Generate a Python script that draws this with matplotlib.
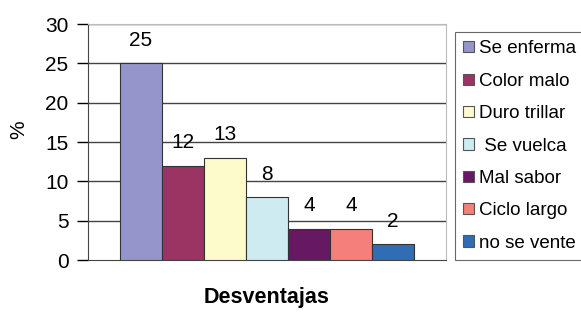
import numpy as np
import matplotlib.pyplot as plt

# datos
categorias = ['Se enferma', 'Color malo', 'Duro trillar', ' Se vuelca',
              'Mal sabor', 'Ciclo largo', 'no se vente']
valores = [25, 12, 13, 8, 4, 4, 2]
colores = ['#9595CC', '#9B3462', '#FDFBCC', '#CDEBF0', '#661863', '#F57F7A', '#2F6DB5']
yticks = [0, 5, 10, 15, 20, 25, 30]

plt.rcParams['font.family'] = ['Liberation Sans', 'DejaVu Sans']

fig = plt.figure(figsize=(5.81, 3.13), dpi=100)
ax = fig.add_axes([88/581, 1-260/313, (446-88)/581, (260-24)/313])

ancho = 42/358*1.0
n = len(valores)
x0 = -ancho*n/2 + ancho/2
for i, (c, v, col) in enumerate(zip(categorias, valores, colores)):
    xi = x0 + i*ancho
    ax.bar(xi, v, width=ancho, color=col, edgecolor='#333333', linewidth=0.8,
           label=c, zorder=3)
    ax.text(xi, v + 2.9, str(v), ha='center', va='center', fontsize=15, zorder=4)

ax.set_xlim(-0.5, 0.5)
ax.set_ylim(0, 30)
ax.set_yticks(yticks)
ax.set_xticks([])
ax.tick_params(axis='y', labelsize=15, length=8, width=1, direction='out', pad=6)
for y in yticks[1:]:
    ax.axhline(y, color='#444444', linewidth=1, zorder=1)
ax.spines['left'].set_color('#444444')
ax.spines['bottom'].set_color('#444444')
ax.spines['top'].set_color('#bbbbbb')
ax.spines['right'].set_color('#bbbbbb')

fig.text(19/581, 1-130/313, '%', rotation=90, ha='center', va='center', fontsize=15)
fig.text(267/581, 1-298/313, 'Desventajas', ha='center', va='center',
         fontsize=15.5, fontweight='bold')

leg = fig.legend(loc='upper left', bbox_to_anchor=(455/581, 1-32/313),
                 frameon=True, fancybox=False, fontsize=13.5, handlelength=0.55,
                 handleheight=0.55, handletextpad=0.3, labelspacing=0.82,
                 borderpad=0.45, borderaxespad=0, edgecolor='#444444')
leg.get_frame().set_linewidth(0.8)
for h in leg.legend_handles:
    h.set_edgecolor('#555555')

fig.savefig('out.png', dpi=100)
